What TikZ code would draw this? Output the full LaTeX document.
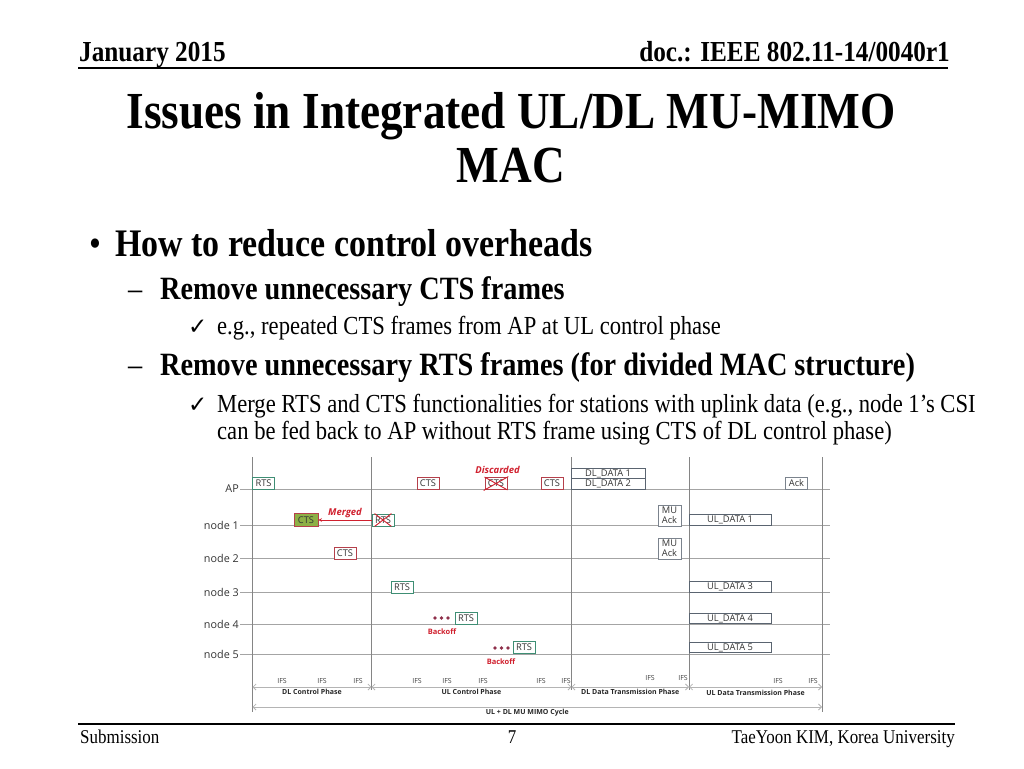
\documentclass[tikz,border=0pt]{standalone}
\usepackage{fontspec}
\setmainfont{Liberation Serif}[FakeStretch=0.87]
\newfontfamily\diafont{Open Sans}
\newfontfamily\checkfont{DejaVu Sans}
\usetikzlibrary{arrows.meta,positioning}

\definecolor{rtsc}{HTML}{3E8E74}
\definecolor{ctsc}{HTML}{B5404B}
\definecolor{datac}{HTML}{5A6470}
\definecolor{gridc}{HTML}{A4A4A4}
\definecolor{vlinec}{HTML}{858585}
\definecolor{phasec}{HTML}{B4B4B4}
\definecolor{redc}{HTML}{D0202E}
\definecolor{dotc}{HTML}{8E2F4A}
\definecolor{greenc}{HTML}{8DB045}

\newcommand\pxsize[1]{\fontsize{#1}{#1}\selectfont}

\tikzset{
  slidetext/.style={inner sep=0pt, anchor=base west},
  frame/.style={draw, line width=0.9pt, inner sep=0pt, minimum width=22pt, minimum height=12pt,
    font=\diafont\pxsize{9.3}, text=black!80, fill=white},
  rtsbox/.style={frame, draw=rtsc},
  ctsbox/.style={frame, draw=ctsc},
  databox/.style={frame, draw=datac, minimum width=74pt, minimum height=10.5pt},
  ackbox/.style={frame, draw=datac!80},
  muack/.style={frame, draw=datac!80, minimum width=23pt, minimum height=21pt, align=center,
    font=\diafont\fontsize{9.3}{10}\selectfont},
  rowlabel/.style={inner sep=1pt, anchor=east, font=\diafont\pxsize{10.8}, text=black!80},
  ifs/.style={inner sep=0pt, font=\diafont\pxsize{7}, text=black!75},
  phaselabel/.style={inner sep=1.5pt, below, font=\diafont\bfseries\pxsize{7}, text=black!85},
  phase/.style={draw=phasec, line width=0.8pt, {Straight Barb[length=3pt,width=6pt]}-{Straight Barb[length=3pt,width=6pt]}},
  redtext/.style={inner sep=0pt, font=\diafont\bfseries\itshape\pxsize{9.5}, text=redc},
  backoff/.style={inner sep=0pt, font=\diafont\bfseries\pxsize{7.5}, text=redc},
  cross/.style={draw=redc, line width=0.9pt, shorten <=-1pt, shorten >=-1pt},
}

\begin{document}
\begin{tikzpicture}[x=1pt, y=-1pt]
\useasboundingbox (0,0) rectangle (1024,768);

% header and title
\node (date) [slidetext, font=\bfseries\pxsize{29}] at (79,62) {January 2015};
\node (doc) [slidetext, anchor=base east, font=\bfseries\pxsize{29}] at (950,62) {doc.: IEEE 802.11-14/0040r1};
\draw[line width=1.5pt] (78,68) -- (948,68);
\node (title) [slidetext, anchor=base, font=\bfseries\pxsize{52}] at (511,128) {Issues in Integrated UL/DL MU-MIMO};
\node (title2) [slidetext, anchor=base, font=\bfseries\pxsize{52}] at (511,182) {MAC};

% bullets
\node (bul1) [slidetext, font=\pxsize{39}] at (89,256) {\textbullet};
\node (txt1) [slidetext, font=\bfseries\pxsize{39}] at (115,256) {How to reduce control overheads};
\node (dash1) [slidetext, font=\pxsize{32.5}] at (128,299) {–};
\node (txt2) [slidetext, font=\bfseries\pxsize{32.5}] at (160,299) {Remove unnecessary CTS frames};
\node (chk1) [slidetext, font=\checkfont\pxsize{23}] at (188,334) {✓};
\node (txt3) [slidetext, font=\pxsize{26}] at (217,334) {e.g., repeated CTS frames from AP at UL control phase};
\node (dash2) [slidetext, font=\pxsize{32.5}] at (128,375) {–};
\node (txt4) [slidetext, font=\bfseries\pxsize{32.5}] at (160,375) {Remove unnecessary RTS frames (for divided MAC structure)};
\node (chk2) [slidetext, font=\checkfont\pxsize{23}] at (188,412) {✓};
\node (txt5) [slidetext, font=\pxsize{26}] at (217,412) {Merge RTS and CTS functionalities for stations with uplink data (e.g., node 1’s CSI};
\node (txt6) [slidetext, font=\pxsize{26}] at (217,439) {can be fed back to AP without RTS frame using CTS of DL control phase)};

% time lines
\foreach \name/\lab/\y in {ap/AP/489, n1/node 1/525, n2/node 2/558, n3/node 3/592, n4/node 4/624, n5/node 5/654} {
  \node (l\name) [rowlabel] at (240,\y) {\lab};
  \draw[gridc, line width=0.8pt] (l\name.east) -- (830,\y);
}
\foreach \x/\b in {252.5/712, 371.5/690, 571.5/690, 689/690, 822/712}
  \draw[vlinec, line width=0.8pt] (\x,457) -- (\x,\b);

% frames
\node (aprts) [rtsbox] at (263.5,483) {RTS};
\node (apcts1) [ctsbox] at (428,483.5) {CTS};
\node (apcts2) [ctsbox] at (496,483.5) {CTS};
\node (apcts3) [ctsbox] at (552,483.5) {CTS};
\node (dl1) [databox, minimum height=11pt] at (608,473.5) {DL\_DATA 1};
\node (dl2) [databox] at (608,484) {DL\_DATA 2};
\node (apack) [ackbox] at (796.5,483) {Ack};
\node (n1cts) [ctsbox, fill=greenc, minimum width=24pt, minimum height=13pt] at (306,520) {CTS};
\node (n1rts) [rtsbox] at (383,520) {RTS};
\node (n2cts) [ctsbox] at (345,553) {CTS};
\node (n3rts) [rtsbox] at (402,587) {RTS};
\node (n4rts) [rtsbox] at (466,618.5) {RTS};
\node (n5rts) [rtsbox] at (524,647.5) {RTS};
\node (n1ack) [muack] at (669.5,515.5) {MU\\Ack};
\node (n2ack) [muack] at (669.5,548.5) {MU\\Ack};
\node (ul1) [databox, minimum width=82pt] at (730,520) {UL\_DATA 1};
\node (ul3) [databox, minimum width=82pt] at (730,587) {UL\_DATA 3};
\node (ul4) [databox, minimum width=82pt] at (730,618.5) {UL\_DATA 4};
\node (ul5) [databox, minimum width=82pt] at (730,647.5) {UL\_DATA 5};

% discarded / merged
\draw[cross] (apcts2.north west) -- (apcts2.south east) (apcts2.north east) -- (apcts2.south west);
\node (disc) [redtext] at (497.5,470) {Discarded};
\draw[cross, shorten <=0pt, shorten >=0pt] ([xshift=3pt]n1rts.north west) -- ([xshift=-3pt]n1rts.south east)
  ([xshift=-3pt]n1rts.north east) -- ([xshift=3pt]n1rts.south west);
\draw[redc, line width=0.8pt, -{Stealth[length=3.5pt,width=3.5pt]}] (n1rts.west) -- node (merged) [redtext, above, inner sep=1.5pt] {Merged} (n1cts.east);

% backoff
\foreach \i in {0,1,2} {
  \fill[dotc] ({435+\i*6.5},618) circle (1.9);
  \fill[dotc] ({495+\i*6.5},648) circle (1.9);
}
\node (bo4) [backoff] at (442,632) {Backoff};
\node (bo5) [backoff] at (501,662) {Backoff};

% IFS and phases
\foreach \x in {282,322,358,417,447,483,541,566,778,813}
  \node (ifs\x) [ifs] at (\x,680.5) {IFS};
\node (ifs650) [ifs] at (650,678) {IFS};
\node (ifs683) [ifs] at (683,678) {IFS};

\coordinate (p0) at (252.5,687);
\coordinate (p1) at (371.5,687);
\coordinate (p2) at (571.5,687);
\coordinate (p3) at (689,687);
\coordinate (p4) at (822,687);
\draw[phase] (p0) -- node (ph1) [phaselabel] {DL Control Phase} (p1);
\draw[phase] (p1) -- node (ph2) [phaselabel] {UL Control Phase} (p2);
\draw[phase] (p2) -- node (ph3) [phaselabel] {DL Data Transmission Phase} (p3);
\draw[phase] (p3) -- node (ph4) [phaselabel, yshift=-1pt] {UL Data Transmission Phase} (p4);
\coordinate (c0) at (252.5,707);
\coordinate (c1) at (822,707);
\draw[phase] (c0) -- node (cyc) [phaselabel, xshift=-10pt] {UL + DL MU MIMO Cycle} (c1);

% footer
\draw[line width=1.5pt] (78,724) -- (955,724);
\node (sub) [slidetext, font=\pxsize{19.5}] at (80,743) {Submission};
\node (page) [slidetext, anchor=base, font=\pxsize{19.5}] at (512,743) {7};
\node (auth) [slidetext, anchor=base east, font=\pxsize{19.5}] at (955,743) {TaeYoon KIM, Korea University};
\end{tikzpicture}
\end{document}
